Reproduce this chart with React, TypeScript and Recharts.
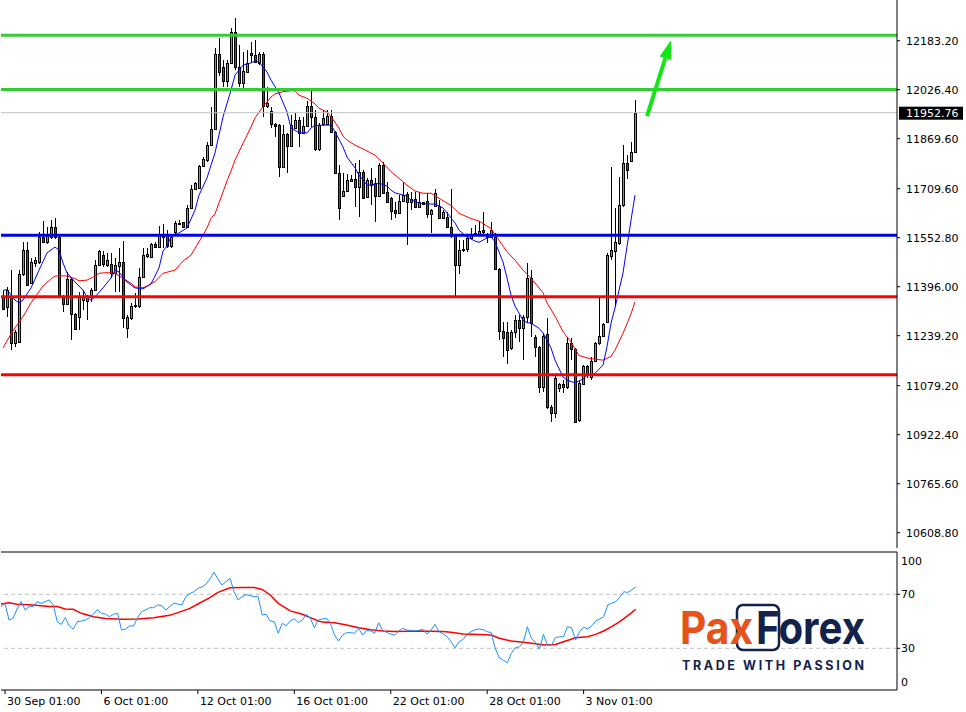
import React from 'react';
import { ComposedChart, Bar, Line, XAxis, YAxis, ReferenceLine } from 'recharts';

// H4 candles, 29 Sep 21:00 .. 4 Nov, [open, high, low, close]
const candles: [number, number, number, number][] = [
  [11364, 11385, 11321, 11326], [11330, 11395, 11299, 11385], [11363, 11449, 11193, 11216], [11215, 11257, 11204, 11252],
  [11220, 11449, 11217, 11436], [11436, 11540, 11430, 11513], [11513, 11539, 11398, 11401], [11407, 11488, 11404, 11476],
  [11473, 11492, 11459, 11481], [11476, 11571, 11470, 11556], [11556, 11606, 11536, 11538], [11538, 11588, 11534, 11558],
  [11556, 11609, 11550, 11588], [11588, 11616, 11550, 11556], [11556, 11565, 11363, 11366], [11366, 11369, 11316, 11340],
  [11340, 11444, 11337, 11420], [11420, 11428, 11225, 11308], [11308, 11312, 11257, 11260], [11298, 11380, 11257, 11366],
  [11353, 11385, 11321, 11366], [11362, 11369, 11289, 11350], [11362, 11392, 11347, 11385], [11385, 11481, 11382, 11465],
  [11465, 11513, 11462, 11510], [11497, 11510, 11460, 11469], [11465, 11504, 11459, 11481], [11469, 11504, 11424, 11439],
  [11439, 11488, 11380, 11465], [11463, 11519, 11380, 11474], [11474, 11542, 11264, 11295], [11265, 11304, 11231, 11300],
  [11297, 11344, 11289, 11334], [11334, 11376, 11327, 11337], [11335, 11456, 11327, 11428], [11428, 11519, 11425, 11497],
  [11495, 11519, 11487, 11501], [11492, 11535, 11489, 11532], [11532, 11540, 11519, 11524], [11524, 11591, 11521, 11561],
  [11563, 11596, 11519, 11556], [11563, 11577, 11519, 11526], [11526, 11561, 11519, 11554], [11572, 11606, 11560, 11599],
  [11599, 11609, 11593, 11601], [11602, 11604, 11583, 11586], [11586, 11657, 11583, 11649], [11649, 11721, 11646, 11709],
  [11709, 11732, 11705, 11727], [11713, 11785, 11711, 11782], [11782, 11812, 11780, 11804], [11800, 11860, 11796, 11849],
  [11849, 11972, 11847, 11901], [11901, 12159, 11898, 12141], [12141, 12191, 12070, 12084], [12098, 12121, 12036, 12055],
  [12055, 12121, 12036, 12113], [12111, 12224, 12108, 12212], [12212, 12255, 12089, 12100], [12100, 12169, 12036, 12047],
  [12047, 12148, 12031, 12086], [12084, 12153, 12079, 12113], [12145, 12180, 12111, 12137], [12137, 12185, 12111, 12116],
  [12111, 12148, 12105, 12141], [12141, 12148, 11940, 11974], [11974, 12036, 11967, 11983], [11959, 11972, 11903, 11917],
  [11916, 11919, 11876, 11911], [11913, 11916, 11748, 11780], [11780, 11913, 11775, 11885], [11885, 11888, 11759, 11847],
  [11847, 11945, 11843, 11913], [11903, 11951, 11900, 11929], [11929, 11940, 11842, 11889], [11889, 11940, 11886, 11910],
  [11910, 11991, 11906, 11975], [11975, 12031, 11908, 11940], [11940, 11961, 11830, 11837], [11837, 11919, 11830, 11913],
  [11917, 11961, 11910, 11936], [11916, 11961, 11913, 11942], [11942, 11961, 11887, 11892], [11892, 11895, 11756, 11759],
  [11759, 11785, 11609, 11647], [11686, 11759, 11683, 11702], [11702, 11756, 11699, 11737], [11735, 11753, 11730, 11740],
  [11740, 11791, 11652, 11716], [11716, 11801, 11620, 11762], [11762, 11769, 11676, 11679], [11684, 11743, 11680, 11737],
  [11737, 11775, 11657, 11721], [11727, 11743, 11604, 11687], [11687, 11791, 11684, 11785], [11785, 11796, 11694, 11697],
  [11700, 11732, 11663, 11666], [11679, 11682, 11609, 11639], [11641, 11668, 11616, 11633], [11633, 11689, 11629, 11670],
  [11670, 11732, 11666, 11689], [11694, 11700, 11529, 11668], [11668, 11700, 11641, 11676], [11676, 11698, 11649, 11652],
  [11652, 11700, 11649, 11668], [11660, 11668, 11657, 11666], [11670, 11695, 11615, 11628], [11628, 11645, 11568, 11641],
  [11654, 11708, 11650, 11695], [11654, 11673, 11613, 11615], [11615, 11640, 11612, 11636], [11618, 11636, 11583, 11586],
  [11586, 11708, 11551, 11558], [11558, 11561, 11361, 11465], [11465, 11545, 11437, 11513], [11513, 11545, 11507, 11516],
  [11517, 11561, 11508, 11551], [11551, 11583, 11548, 11565], [11565, 11593, 11561, 11567], [11565, 11607, 11558, 11575],
  [11577, 11636, 11558, 11572], [11561, 11567, 11535, 11555], [11556, 11604, 11553, 11577], [11556, 11568, 11449, 11453],
  [11453, 11456, 11225, 11255], [11254, 11284, 11172, 11231], [11252, 11284, 11149, 11193], [11201, 11257, 11193, 11252],
  [11250, 11305, 11232, 11289], [11289, 11305, 11220, 11263], [11263, 11305, 11161, 11300], [11300, 11471, 11279, 11423],
  [11423, 11449, 11236, 11279], [11234, 11241, 11172, 11202], [11202, 11205, 11057, 11076], [11076, 11248, 11060, 11239],
  [11244, 11295, 11005, 11010], [11010, 11017, 10964, 10993], [10993, 11113, 10976, 11103], [11073, 11087, 11060, 11085],
  [11085, 11097, 11055, 11076], [11076, 11231, 11070, 11215], [11215, 11231, 11161, 11196], [11196, 11199, 10959, 10964],
  [10969, 11097, 10963, 11087], [11084, 11145, 11080, 11142], [11142, 11145, 11103, 11113], [11108, 11172, 11097, 11159],
  [11159, 11220, 11155, 11215], [11215, 11366, 11210, 11239], [11239, 11279, 11235, 11276], [11284, 11503, 11283, 11497],
  [11495, 11780, 11481, 11513], [11511, 11647, 11332, 11540], [11537, 11748, 11530, 11657], [11657, 11849, 11650, 11793],
  [11793, 11817, 11740, 11769], [11799, 11860, 11795, 11828], [11826, 11993, 11823, 11952.76],
];

// moving averages: [candle index, value]
const fastMa: [number, number][] = [
  [0, 11384], [1, 11387], [3, 11353], [4, 11344], [5, 11353], [7, 11392], [9, 11449], [11, 11504], [13, 11523],
  [14, 11513], [15, 11472], [16, 11440], [18, 11411], [20, 11385], [21, 11363], [22, 11353], [23, 11363], [25, 11392],
  [27, 11424], [28, 11449], [29, 11443], [31, 11411], [33, 11392], [35, 11389], [37, 11405], [39, 11456], [40, 11510],
  [41, 11526], [42, 11556], [44, 11568], [46, 11584], [48, 11641], [49, 11689], [51, 11744], [52, 11785], [53, 11824],
  [55, 11939], [57, 12025], [58, 12073], [60, 12105], [62, 12112], [63, 12118], [64, 12115], [66, 12083], [67, 12057],
  [69, 12016], [71, 11955], [72, 11904], [74, 11889], [76, 11888], [77, 11904], [78, 11912], [80, 11913], [82, 11913],
  [83, 11892], [85, 11843], [86, 11811], [88, 11776], [89, 11753], [91, 11721], [92, 11721], [94, 11727], [96, 11718],
  [97, 11705], [98, 11696], [101, 11686], [102, 11673], [104, 11664], [106, 11661], [108, 11660], [110, 11648],
  [111, 11632], [113, 11600], [114, 11577], [116, 11555], [118, 11542], [119, 11538], [121, 11552], [122, 11555],
  [123, 11540], [125, 11475], [126, 11424], [127, 11369], [128, 11334], [130, 11289], [131, 11281], [132, 11279],
  [134, 11263], [135, 11248], [136, 11225], [137, 11200], [138, 11161], [140, 11107], [141, 11097], [143, 11088],
  [145, 11101], [146, 11112], [148, 11119], [150, 11145], [151, 11204], [152, 11279], [153, 11328], [154, 11384],
  [155, 11440], [156, 11524], [157, 11609], [158, 11689],
];

const slowMa: [number, number][] = [
  [0, 11200], [2, 11245], [3, 11264], [5, 11300], [7, 11344], [8, 11363], [10, 11398], [12, 11421], [13, 11430],
  [14, 11431], [16, 11430], [18, 11422], [19, 11415], [21, 11417], [23, 11430], [24, 11439], [26, 11441], [28, 11439],
  [30, 11423], [32, 11407], [33, 11395], [35, 11393], [36, 11398], [38, 11412], [40, 11439], [43, 11449], [45, 11478],
  [47, 11497], [49, 11540], [50, 11561], [51, 11584], [52, 11615], [53, 11629], [54, 11664], [55, 11699], [56, 11734],
  [57, 11766], [58, 11801], [60, 11855], [62, 11907], [63, 11936], [65, 11972], [67, 12003], [68, 12013], [70, 12020],
  [72, 12023], [73, 12023], [74, 12009], [76, 11999], [78, 11981], [79, 11967], [80, 11961], [81, 11955], [82, 11940],
  [84, 11903], [85, 11878], [86, 11865], [88, 11849], [90, 11837], [91, 11830], [93, 11817], [95, 11791], [97, 11764],
  [99, 11743], [101, 11721], [103, 11702], [105, 11695], [107, 11695], [109, 11679], [112, 11656], [114, 11631],
  [117, 11614], [119, 11606], [122, 11582], [124, 11544], [126, 11508], [128, 11481], [130, 11449], [132, 11423],
  [135, 11377], [136, 11344], [138, 11302], [140, 11252], [142, 11219], [144, 11176], [146, 11168], [148, 11164],
  [150, 11161], [152, 11173], [153, 11193], [155, 11247], [157, 11309], [158, 11348],
];

// oscillator panel, one value per candle
const rsi: number[] = [
  60.9, 63.3, 50.9, 52.2, 59.1, 64.6, 58.4, 60.9, 60.9, 64.6,
  63.3, 64.6, 65.8, 62.1, 49.7, 47.7, 52.7, 46.5, 44.3, 49.7,
  50.2, 50.9, 52.7, 55.2, 58.9, 55.9, 55.4, 53.4, 55.2, 55.9,
  43.5, 44.3, 46.5, 46.5, 52.7, 57.2, 58.4, 60.1, 60.1, 62.1,
  61.6, 58.4, 60.9, 63.3, 62.8, 62.1, 68.2, 70.6, 71.9, 74.4,
  75.4, 77.4, 81.3, 86.3, 81.3, 76.9, 79.4, 81.8, 71.9, 65.8,
  68.2, 69.9, 69.0, 68.2, 68.2, 54.7, 55.2, 50.2, 49.7, 41.1,
  48.5, 46.7, 50.4, 51.7, 49.2, 50.9, 55.2, 52.2, 45.2, 50.9,
  51.7, 52.2, 48.5, 39.8, 35.4, 39.8, 41.6, 41.6, 41.1, 44.8,
  39.8, 43.3, 42.8, 41.1, 48.9, 43.3, 41.6, 40.6, 39.8, 42.8,
  44.8, 43.5, 43.3, 42.8, 43.3, 44.0, 40.6, 43.3, 47.7, 42.3,
  40.8, 38.6, 34.9, 30.4, 34.9, 36.6, 40.3, 42.3, 43.8, 44.3,
  43.8, 42.3, 41.6, 29.9, 23.0, 21.2, 19.3, 26.2, 30.4, 31.1,
  34.4, 46.0, 37.4, 34.4, 29.4, 40.3, 32.4, 32.4, 37.8, 38.6,
  38.6, 46.0, 45.2, 36.1, 42.3, 45.7, 44.3, 46.7, 50.2, 51.7,
  53.4, 62.1, 63.3, 64.6, 68.0, 71.9, 71.4, 73.2, 75.6,
];

const rsiSignal: [number, number][] = [
  [0, 62.8], [2, 63.8], [4, 62.6], [8, 62.1], [12, 60.9], [14, 60.9], [16, 59.1], [18, 58.9], [20, 55.9], [23, 53.4],
  [26, 52.0], [30, 51.5], [34, 51.7], [38, 52.7], [42, 54.4], [44, 56.4], [47, 59.6], [49, 62.8], [52, 67.5],
  [54, 71.4], [57, 74.8], [60, 75.1], [63, 75.1], [65, 73.6], [67, 69.5], [69, 63.3], [72, 57.7], [75, 55.2],
  [77, 52.7], [79, 50.2], [80, 49.4], [83, 48.9], [86, 47.2], [89, 45.2], [92, 43.8], [95, 42.8], [98, 42.5],
  [104, 42.8], [110, 42.5], [112, 41.8], [115, 40.6], [119, 40.3], [122, 39.8], [124, 37.4], [127, 35.4], [130, 34.4],
  [133, 33.3], [135, 32.4], [138, 32.9], [140, 34.9], [143, 37.8], [146, 38.6], [148, 40.3], [150, 42.8], [152, 46.0],
  [154, 49.7], [156, 54.2], [158, 58.9],
];

const priceTicks = [12183.2, 12026.4, 11869.6, 11709.6, 11552.8, 11396.0, 11239.2, 11079.2, 10922.4, 10765.6, 10608.8];
const rsiTicks = [100, 70, 30, 0];
const timeTicks = [1, 25, 49, 73, 97, 121, 145];
const timeLabels = ['30 Sep 01:00', '6 Oct 01:00', '12 Oct 01:00', '16 Oct 01:00', '22 Oct 01:00', '28 Oct 01:00', '3 Nov 01:00'];
const lastPrice = 11952.76;
const greenLevels = [12201, 12027];
const blueLevels = [11561];
const redLevels = [11364, 11114];
const arrowFrom: [number, number] = [161, 11942];
const arrowTo: [number, number] = [167, 12185];

const SLOTS = 224;
const FONT = '"DejaVu Sans", sans-serif';

type Row = {
  i: number;
  range: [number, number] | null;
  ohlc: [number, number, number, number] | null;
  fast: number | null;
  slow: number | null;
  rsi: number | null;
  sig: number | null;
};

const rows: Row[] = Array.from({ length: SLOTS }, (_, i) => {
  const c = candles[i];
  return {
    i,
    range: c ? [c[2], c[1]] : null,
    ohlc: c ?? null,
    fast: null,
    slow: null,
    rsi: rsi[i] ?? null,
    sig: null,
  };
});
fastMa.forEach(([i, v]) => (rows[i].fast = v));
slowMa.forEach(([i, v]) => (rows[i].slow = v));
rsiSignal.forEach(([i, v]) => (rows[i].sig = v));

function Candle(props: any) {
  const { x, y, width, height, payload } = props;
  if (!payload || !payload.ohlc) return null;
  const [o, h, l, c] = payload.ohlc;
  const top = Math.min(y, y + height);
  const span = Math.abs(height);
  const py = (p: number) => top + (h === l ? 0 : ((h - p) / (h - l)) * span);
  const cx = Math.floor(x + width / 2);
  const bTop = Math.round(py(Math.max(o, c)));
  const bBot = Math.max(Math.round(py(Math.min(o, c))), bTop + 1);
  return (
    <g>
      <line x1={cx + 0.5} x2={cx + 0.5} y1={Math.round(top)} y2={Math.round(top + span)} stroke="#000" strokeWidth={1} />
      <rect
        x={cx - 0.5}
        y={bTop + 0.5}
        width={2}
        height={bBot - bTop}
        fill={c >= o ? '#1ee01e' : '#f01010'}
        stroke="#000"
        strokeWidth={1}
      />
    </g>
  );
}

function PriceTick(props: any) {
  const { x, y, payload } = props;
  return (
    <g>
      <line x1={x} x2={x + 3} y1={y} y2={y} stroke="#000" />
      <text x={x + 9} y={y + 4} fontSize={11} fontFamily={FONT} fill="#000">
        {payload.value.toFixed(2)}
      </text>
    </g>
  );
}

function RsiTick(props: any) {
  const { x, y, payload } = props;
  const v = payload.value;
  const dy = v === 100 ? 7 : v === 0 ? -6.5 : 0;
  return (
    <g>
      {v !== 100 && v !== 0 && <line x1={x} x2={x + 3} y1={y} y2={y} stroke="#000" />}
      <text x={x + 4} y={y + dy + 4} fontSize={11} fontFamily={FONT} fill="#000">
        {v}
      </text>
    </g>
  );
}

function TimeTick(props: any) {
  const { x, y, payload } = props;
  const idx = timeTicks.indexOf(payload.value);
  return (
    <g>
      <line x1={x} x2={x} y1={y} y2={y + 4} stroke="#000" />
      <text x={x + 2} y={y + 15} fontSize={11} fontFamily={FONT} fill="#000">
        {timeLabels[idx]}
      </text>
    </g>
  );
}

function LastPriceTag(props: any) {
  const vb = props.viewBox;
  if (!vb) return null;
  const left = vb.x + vb.width + 2;
  return (
    <g>
      <rect x={left} y={vb.y - 6} width={64} height={13} fill="#000" />
      <text x={left + 7} y={vb.y + 4} fontSize={11} fontFamily={FONT} fill="#fff">
        {lastPrice.toFixed(2)}
      </text>
    </g>
  );
}

function ArrowShape(props: any) {
  const { x1, y1, x2, y2 } = props;
  if ([x1, y1, x2, y2].some((v) => typeof v !== 'number')) return null;
  const a = Math.atan2(y2 - y1, x2 - x1);
  const len = 19;
  const half = 6;
  const bx = x2 - len * Math.cos(a);
  const by = y2 - len * Math.sin(a);
  const nx = -Math.sin(a) * half;
  const ny = Math.cos(a) * half;
  return (
    <g>
      <line x1={x1} y1={y1} x2={bx} y2={by} stroke="#14e614" strokeWidth={4} />
      <polygon points={`${x2},${y2} ${bx + nx},${by + ny} ${bx - nx},${by - ny}`} fill="#14e614" />
    </g>
  );
}

function Logo() {
  const navy = '#13224a';
  const orange = '#e5531a';
  return (
    <svg width={966} height={712} style={{ position: 'absolute', left: 0, top: 0, pointerEvents: 'none' }}>
      <rect x={737} y={605} width={42} height={45} rx={6} fill="#fff" stroke={navy} strokeWidth={2.5} />
      <text x={680} y={644} fontFamily="Inter, sans-serif" fontWeight={700} fontSize={45} fill={orange} textLength={73} lengthAdjust="spacingAndGlyphs">
        Pax
      </text>
      <text x={756} y={644} fontFamily="Inter, sans-serif" fontWeight={700} fontSize={45} fill={navy} textLength={109} lengthAdjust="spacingAndGlyphs">
        Forex
      </text>
      <text x={682} y={670} fontFamily="Inter, sans-serif" fontWeight={700} fontSize={12.5} fill={navy} textLength={182} lengthAdjust="spacing">
        TRADE WITH PASSION
      </text>
    </svg>
  );
}

export default function App() {
  return (
    <div style={{ position: 'relative', width: 966, height: 712, background: '#fff', fontFamily: FONT }}>
      <style>{'body{margin:0;background:#fff}'}</style>
      <div style={{ position: 'absolute', left: 0, top: 0 }}>
        <ComposedChart
          width={966}
          height={549}
          data={rows}
          margin={{ top: 0, right: 0, bottom: 1, left: 1 }}
          barCategoryGap={0}
          barGap={0}
        >
          <XAxis dataKey="i" height={0} tick={false} tickLine={false} axisLine={{ stroke: '#000' }} />
          <YAxis
            orientation="right"
            width={69}
            type="number"
            domain={[10559.8, 12313.4]}
            allowDataOverflow
            ticks={priceTicks}
            interval={0}
            tick={<PriceTick />}
            tickLine={false}
            tickSize={0}
            tickMargin={0}
            axisLine={{ stroke: '#000' }}
          />
          <Bar dataKey="range" shape={<Candle />} isAnimationActive={false} />
          <Line dataKey="slow" stroke="#ff0000" strokeWidth={1} dot={false} connectNulls isAnimationActive={false} />
          <Line dataKey="fast" stroke="#0000ff" strokeWidth={1} dot={false} connectNulls isAnimationActive={false} />
          <ReferenceLine y={lastPrice} stroke="#c0c0c0" strokeWidth={1} label={<LastPriceTag />} />
          {greenLevels.map((v) => (
            <ReferenceLine key={'g' + v} y={v} stroke="#33cc33" strokeWidth={3} />
          ))}
          {blueLevels.map((v) => (
            <ReferenceLine key={'b' + v} y={v} stroke="#0000e6" strokeWidth={3} />
          ))}
          {redLevels.map((v) => (
            <ReferenceLine key={'r' + v} y={v} stroke="#ff0000" strokeWidth={3} />
          ))}
          <ReferenceLine
            segment={[
              { x: arrowFrom[0], y: arrowFrom[1] },
              { x: arrowTo[0], y: arrowTo[1] },
            ]}
            ifOverflow="visible"
            shape={(p: any) => <ArrowShape {...p} />}
          />
        </ComposedChart>
      </div>
      <div style={{ position: 'absolute', left: 0, top: 549 }}>
        <ComposedChart width={966} height={163} data={rows} margin={{ top: 3, right: 0, bottom: 0, left: 1 }}>
          <XAxis
            dataKey="i"
            height={22}
            ticks={timeTicks}
            interval={0}
            tick={<TimeTick />}
            tickLine={false}
            tickSize={0}
            tickMargin={0}
            axisLine={{ stroke: '#000' }}
          />
          <YAxis
            orientation="right"
            width={69}
            type="number"
            domain={[-0.89, 101.33]}
            allowDataOverflow
            ticks={rsiTicks}
            interval={0}
            tick={<RsiTick />}
            tickLine={false}
            tickSize={0}
            tickMargin={0}
            axisLine={{ stroke: '#000' }}
          />
          <ReferenceLine y={70} stroke="#c0c0c0" strokeDasharray="4 3" />
          <ReferenceLine y={30} stroke="#c0c0c0" strokeDasharray="4 3" />
          <ReferenceLine y={101.33} stroke="#000" />
          <Line dataKey="sig" stroke="#ff0000" strokeWidth={1.5} dot={false} connectNulls isAnimationActive={false} />
          <Line dataKey="rsi" stroke="#1e90ff" strokeWidth={1} dot={false} connectNulls isAnimationActive={false} />
        </ComposedChart>
      </div>
      <Logo />
    </div>
  );
}
